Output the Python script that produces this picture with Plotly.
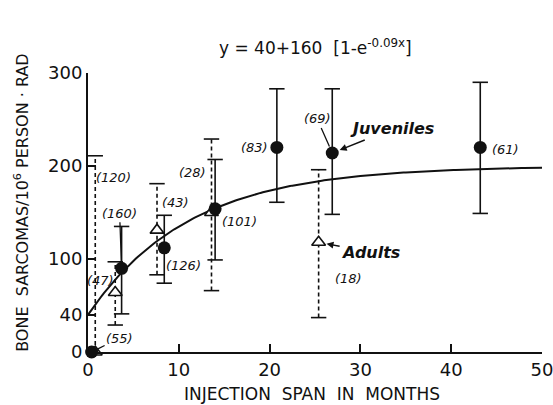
import numpy as np
import plotly.graph_objects as go

# ---------------- data ----------------
juv_x = [0.4, 3.7, 8.4, 14.0, 20.8, 26.9, 43.2]
juv_y = [0, 90, 112, 154, 220, 214, 220]
juv_hi = [None, 135, 147, 207, 283, 283, 290]
juv_lo = [None, 41, 74, 99, 161, 148, 149]
juv_n = ["(55)", "(160)", "(126)", "(101)", "(83)", "(69)", "(61)"]

adu_x = [0.8, 3.0, 7.6, 13.6, 25.4]
adu_y = [0, 64, 131, 150, 118]
adu_hi = [211, 97, 181, 229, 196]
adu_lo = [0, 29, 83, 66, 37]
adu_n = ["(120)", "(47)", "(43)", "(28)", "(18)"]

# fitted model shown in the chart: y = 40 + 160 [1 - e^(-0.09x)]
fit_a, fit_b, fit_k = 40, 160, 0.09
fit_x = np.linspace(0, 50, 201)
fit_y = fit_a + fit_b * (1 - np.exp(-fit_k * fit_x))

xticks = [0, 10, 20, 30, 40, 50]
yticks = [0, 40, 100, 200, 300]

FONT = "DejaVu Sans"
BLACK = "#111111"

fig = go.Figure()

# fit curve
fig.add_trace(go.Scatter(x=fit_x, y=fit_y, mode="lines",
                         line=dict(color=BLACK, width=2), hoverinfo="skip",
                         cliponaxis=False))


def bars(xs, his, los):
    bx, by, cx, cy = [], [], [], []
    for x, h, l in zip(xs, his, los):
        if h is None:
            continue
        bx += [x, x, None]
        by += [l, h, None]
        cx += [x]
        cy += [h]
        if l > 0:
            cx += [x]
            cy += [l]
    return bx, by, cx, cy


# adult error bars (dashed)
bx, by, cx, cy = bars(adu_x, adu_hi, adu_lo)
fig.add_trace(go.Scatter(x=bx, y=by, mode="lines",
                         line=dict(color=BLACK, width=1.6, dash="4px,3px"),
                         cliponaxis=False))
fig.add_trace(go.Scatter(x=cx, y=cy, mode="markers",
                         marker=dict(symbol="line-ew", size=11,
                                     line=dict(color=BLACK, width=1.6)),
                         cliponaxis=False))

# juvenile error bars (solid)
bx, by, cx, cy = bars(juv_x, juv_hi, juv_lo)
fig.add_trace(go.Scatter(x=bx, y=by, mode="lines",
                         line=dict(color=BLACK, width=1.6),
                         cliponaxis=False))
fig.add_trace(go.Scatter(x=cx, y=cy, mode="markers",
                         marker=dict(symbol="line-ew", size=11,
                                     line=dict(color=BLACK, width=1.6)),
                         cliponaxis=False))

# adults: open triangles
fig.add_trace(go.Scatter(x=adu_x, y=adu_y, mode="markers",
                         marker=dict(symbol="triangle-up", size=12, color="white",
                                     line=dict(color=BLACK, width=1.6)),
                         cliponaxis=False))
# juveniles: filled circles
fig.add_trace(go.Scatter(x=juv_x, y=juv_y, mode="markers",
                         marker=dict(symbol="circle", size=13, color=BLACK,
                                     line=dict(color=BLACK, width=0)),
                         cliponaxis=False))

# ---------------- labels ----------------
lab_font = dict(family=FONT, size=13, color=BLACK)
# pixel shifts of count labels relative to their point (style only)
juv_shift = [(28, 14), (-2, 55), (19, -18), (24, -13), (-22, 0), (-15, 34), (25, -2)]
adu_shift = [(18, 175), (-15, 12), (18, 28), (-19, 40), (30, -36)]
juv_leader = [True, True, False, False, False, True, False]

ann = []
for x, y, t, (dx, dy), lead in zip(juv_x, juv_y, juv_n, juv_shift, juv_leader):
    if lead:
        ann.append(dict(x=x, y=y, xref="x", yref="y", text="<i>%s</i>" % t,
                        showarrow=True, arrowhead=0, arrowwidth=1.3,
                        arrowcolor=BLACK, ax=dx, ay=-dy, standoff=7,
                        font=lab_font))
    else:
        ann.append(dict(x=x, y=y, xref="x", yref="y", text="<i>%s</i>" % t,
                        showarrow=False, xshift=dx, yshift=dy, font=lab_font))
for x, y, t, (dx, dy) in zip(adu_x, adu_y, adu_n, adu_shift):
    ann.append(dict(x=x, y=y, xref="x", yref="y", text="<i>%s</i>" % t,
                    showarrow=False, xshift=dx, yshift=dy, font=lab_font))

# series names with arrows
ann.append(dict(x=juv_x[5], y=juv_y[5], xref="x", yref="y",
                text="<b><i>Juveniles</i></b>", showarrow=True, arrowhead=2,
                arrowsize=1, arrowwidth=1.4, arrowcolor=BLACK, ax=60, ay=-24,
                standoff=8, font=dict(family=FONT, size=16, color=BLACK)))
ann.append(dict(x=adu_x[4], y=adu_y[4], xref="x", yref="y",
                text="<b><i>Adults</i></b>", showarrow=True, arrowhead=2,
                arrowsize=1, arrowwidth=1.4, arrowcolor=BLACK, ax=52, ay=10,
                standoff=8, font=dict(family=FONT, size=16, color=BLACK)))

# formula
ann.append(dict(x=0.5, y=1.093, xref="paper", yref="paper",
                xanchor="center", yanchor="middle",
                text="y = 40+160  [1-e<sup>-0.09x</sup>]", showarrow=False,
                font=dict(family=FONT, size=17, color=BLACK)))
# axis titles
ann.append(dict(x=-0.148, y=0.534, xref="paper", yref="paper", textangle=-90,
                xanchor="center", yanchor="middle",
                text="BONE  SARCOMAS/10<sup>6</sup> PERSON · RAD", showarrow=False,
                font=dict(family=FONT, size=16, color=BLACK)))
ann.append(dict(x=0.493, y=-0.15, xref="paper", yref="paper",
                xanchor="center", yanchor="middle",
                text="INJECTION  SPAN  IN  MONTHS", showarrow=False,
                font=dict(family=FONT, size=17, color=BLACK)))

axis_common = dict(showgrid=False, zeroline=False, showline=True,
                   linecolor=BLACK, linewidth=2, ticks="inside", ticklen=8,
                   tickwidth=1.6, tickcolor=BLACK, automargin=False,
                   ticklabeloverflow="allow",
                   tickfont=dict(family=FONT, size=18, color=BLACK))

fig.update_layout(
    width=553, height=405,
    margin=dict(l=88, r=11, t=73, b=53),
    paper_bgcolor="white", plot_bgcolor="white",
    showlegend=False,
    annotations=ann,
    xaxis=dict(range=[0, 50], tickvals=xticks, **axis_common),
    yaxis=dict(range=[0, 300], tickvals=yticks, **axis_common),
)

# remove the page's default body margin so the 553x405 figure fills the window
fig.write_html(
    "out.html",
    config={"displayModeBar": False},
    post_script="document.body.style.margin='0';"
                "document.documentElement.style.overflow='hidden';",
)
